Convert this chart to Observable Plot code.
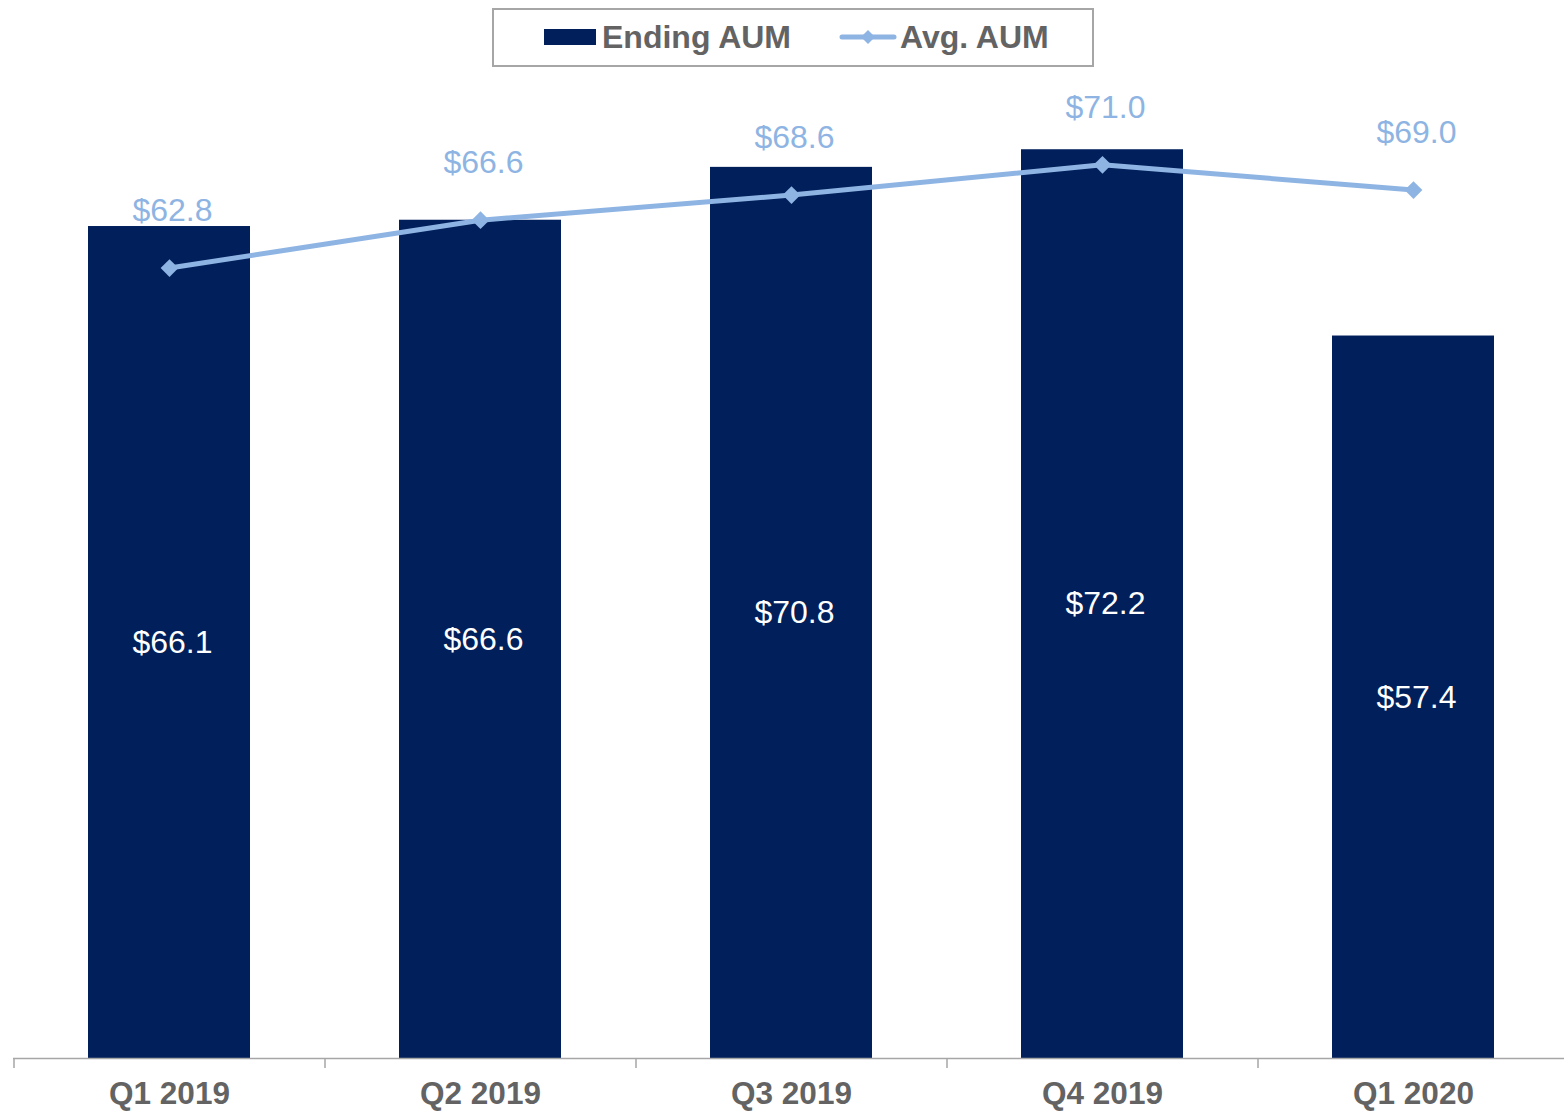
<!DOCTYPE html>
<html><head><meta charset="utf-8">
<script src="https://cdn.jsdelivr.net/npm/d3@7"></script>
<script src="https://cdn.jsdelivr.net/npm/@observablehq/plot@0.6"></script>
<style>
body{margin:0;background:#fff;font-family:"Liberation Sans",Arial,sans-serif;}
#legend{position:relative;width:1564px;height:70px;}
#legend .box{position:absolute;left:492px;top:8px;width:598px;height:55px;border:2px solid #a6a6a6;box-sizing:content-box;}
#legend .sw{position:absolute;left:50px;top:19px;width:52px;height:16px;background:#001f5b;}
#legend .lab{position:absolute;top:7px;line-height:40px;font-size:32px;font-weight:bold;color:#636363;white-space:nowrap;}
#legend svg{position:absolute;left:345px;top:17px;}
</style></head>
<body>
<div id="legend"><div class="box">
<div class="sw"></div><div class="lab" style="left:108px">Ending AUM</div>
<svg width="58" height="20"><line x1="3" y1="10" x2="55" y2="10" stroke="#8eb4e3" stroke-width="5" stroke-linecap="round"/><path d="M29,3L36,10L29,17L22,10Z" fill="#8eb4e3"/></svg>
<div class="lab" style="left:406px">Avg. AUM</div>
</div></div>
<div id="chart"></div>
<script>
const quarters = ["Q1 2019", "Q2 2019", "Q3 2019", "Q4 2019", "Q1 2020"];
const endingAUM = [66.1, 66.6, 70.8, 72.2, 57.4];
const avgAUM = [62.8, 66.6, 68.6, 71.0, 69.0];

const data = quarters.map((q, i) => ({q, ending: endingAUM[i], avg: avgAUM[i]}));
const W = 1564, H = 1041, mL = 13, mT = 44, mB = 53;
const xRange = [13, 1568];
const step = (xRange[1] - xRange[0]) / quarters.length;
const pxPerUnit = (H - mT - mB) / 75;
const navy = "#001f5b", light = "#8eb4e3", grey = "#a6a6a6";

const chart = Plot.plot({
  width: W, height: H,
  marginLeft: mL, marginRight: 0, marginTop: mT, marginBottom: mB,
  style: {fontFamily: "'Liberation Sans', Arial, sans-serif", color: "#636363", background: "#fff"},
  x: {domain: quarters, range: xRange, paddingInner: 0.48, paddingOuter: 0.24, label: null},
  y: {domain: [0, 75], axis: null},
  marks: [
    Plot.barY(data, {x: "q", y: "ending", fill: navy}),
    Plot.ruleY([0], {stroke: grey, strokeWidth: 1.5}),
    Plot.ruleX(quarters, {x: d => d, y1: 0, y2: -10 / pxPerUnit, dx: -step / 2, stroke: grey, strokeWidth: 1.5}),
    Plot.axisX({tickSize: 0, tickPadding: 23, fontSize: 31.5, fontWeight: "bold", label: null}),
    Plot.text(data, {x: "q", y: d => d.ending / 2, text: d => `$${d.ending.toFixed(1)}`, fill: "white", fontSize: 32, lineAnchor: "middle", dx: 3}),
    Plot.lineY(data, {x: "q", y: "avg", stroke: light, strokeWidth: 5}),
    Plot.dot(data, {x: "q", y: "avg", symbol: "diamond2", r: 8, fill: light, stroke: null}),
    Plot.text(data, {x: "q", y: "avg", text: d => `$${d.avg.toFixed(1)}`, fill: light, fontSize: 32, lineAnchor: "middle", dx: 3, dy: -57})
  ]
});
document.getElementById("chart").appendChild(chart);
</script>
</body></html>
